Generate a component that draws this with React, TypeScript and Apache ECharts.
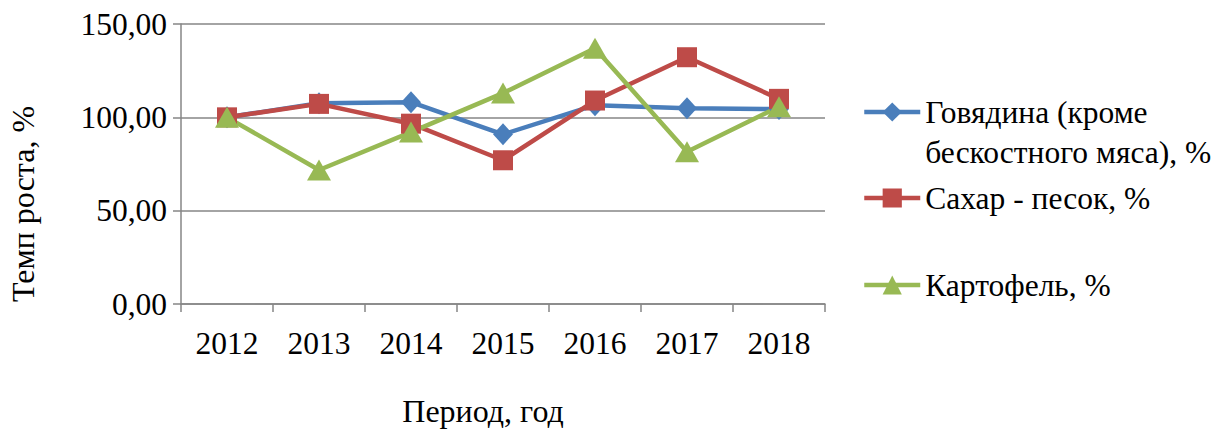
import React, { useEffect, useRef } from "react";
import * as echarts from "echarts";

const categories = ["2012", "2013", "2014", "2015", "2016", "2017", "2018"];
const beef = [100, 107.6, 108.1, 90.9, 106.5, 104.9, 104.4];
const sugar = [100, 107.2, 96.6, 77.0, 109.0, 132.2, 109.9];
const potato = [100, 71.8, 92.1, 113.0, 137.0, 81.6, 105.7];
const seriesNames = [
  "Говядина (кроме\nбескостного мяса), %",
  "Сахар - песок, %",
  "Картофель, %",
];
const yTicks = { min: 0, max: 150, interval: 50 };
const xTitle = "Период, год";
const yTitle = "Темп роста, %";

const FONT = "Liberation Serif";
const FS = 31.5;

export default function App() {
  const ref = useRef<HTMLDivElement>(null);
  useEffect(() => {
    if (!ref.current) return;
    const chart = echarts.init(ref.current, null, { renderer: "svg" });
    const legendCommon = {
      orient: "vertical",
      left: 862,
      padding: 0,
      itemWidth: 56,
      itemHeight: 24,
      selectedMode: false,
      lineStyle: { width: 4.5 },
      textStyle: { fontFamily: FONT, fontSize: FS, color: "#000", lineHeight: 40 },
    };
    chart.setOption({
      animation: false,
      textStyle: { fontFamily: FONT },
      grid: { left: 181, right: 392, top: 24, bottom: 128, containLabel: false },
      legend: [
        {
          ...legendCommon,
          top: 52,
          data: [seriesNames[0]],
          formatter: (name: string) => " \n" + name,
        },
        { ...legendCommon, top: 178, data: [seriesNames[1]] },
        { ...legendCommon, top: 265, data: [seriesNames[2]] },
      ],
      graphic: [
        {
          type: "text",
          x: 483,
          y: 411,
          style: { text: xTitle, font: `32px ${FONT}`, fill: "#000", align: "center", verticalAlign: "middle" },
        },
        {
          type: "text",
          x: 23,
          y: 204,
          rotation: Math.PI / 2,
          style: { text: yTitle, font: `32px ${FONT}`, fill: "#000", align: "center", verticalAlign: "middle" },
        },
      ],
      xAxis: {
        type: "category",
        data: categories,
        boundaryGap: true,
        axisLine: { show: true, lineStyle: { color: "#868686", width: 1.5 } },
        axisTick: { show: true, length: 8, interval: 0, lineStyle: { color: "#868686", width: 1.5 } },
        axisLabel: { fontFamily: FONT, fontSize: FS, color: "#000", margin: 23, interval: 0 },
        splitLine: { show: false },
      },
      yAxis: {
        type: "value",
        min: yTicks.min,
        max: yTicks.max,
        interval: yTicks.interval,
        axisLine: { show: true, lineStyle: { color: "#868686", width: 1.5 } },
        axisTick: { show: true, length: 8, lineStyle: { color: "#868686", width: 1.5 } },
        axisLabel: {
          fontFamily: FONT,
          fontSize: FS,
          color: "#000",
          margin: 14,
          formatter: (v: number) => v.toFixed(2).replace(".", ","),
        },
        splitLine: { show: true, lineStyle: { color: "#868686", width: 1.5 } },
      },
      series: [
        {
          name: seriesNames[0],
          type: "line",
          data: beef,
          symbol: "diamond",
          symbolSize: [20, 22],
          lineStyle: { color: "#4A7EBB", width: 4.5 },
          itemStyle: { color: "#4A7EBB" },
        },
        {
          name: seriesNames[1],
          type: "line",
          data: sugar,
          symbol: "rect",
          symbolSize: 20,
          lineStyle: { color: "#BE4B48", width: 4.5 },
          itemStyle: { color: "#BE4B48" },
        },
        {
          name: seriesNames[2],
          type: "line",
          data: potato,
          symbol: "triangle",
          symbolSize: [24, 21],
          lineStyle: { color: "#98B954", width: 4.5 },
          itemStyle: { color: "#98B954" },
        },
      ],
    });
    return () => chart.dispose();
  }, []);
  return <div ref={ref} style={{ width: 1217, height: 432, position: "absolute", left: 0, top: 0 }} />;
}
